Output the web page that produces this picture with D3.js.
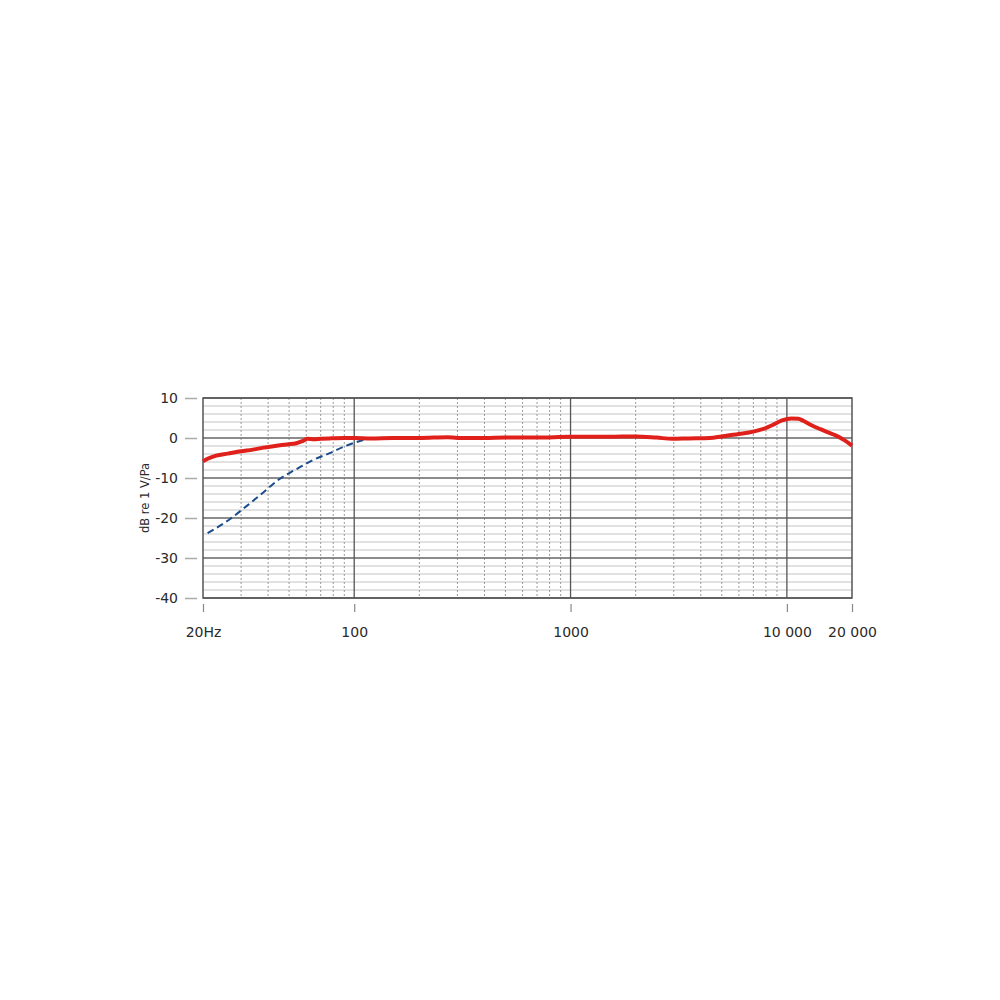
<!DOCTYPE html>
<html>
<head>
<meta charset="utf-8">
<script src="https://cdn.jsdelivr.net/npm/d3@7"></script>
<style>
  body { margin: 0; background: #fff; }
  text { font-family: "DejaVu Sans", Verdana, sans-serif; fill: #2a2a2a; }
</style>
</head>
<body>
<div id="chart"></div>
<script>
// response curve (Hz, dB)
const redFreq = [20, 21, 23, 26, 30, 34, 38, 43, 49, 54, 58, 61, 65, 70, 77, 90, 100, 120, 150, 200, 270, 300, 400, 500, 700, 1000, 1500, 2000, 2500, 2950, 3500, 4400, 5000, 6000, 7000, 7800, 8700, 9500, 10500, 11300, 11900, 13000, 14300, 15500, 16900, 18500, 20000];
const redDb   = [-5.8, -5.2, -4.4, -3.9, -3.3, -2.9, -2.4, -2.0, -1.6, -1.3, -0.7, -0.2, -0.3, -0.2, -0.1, 0, 0, -0.1, 0, 0, 0.2, 0, 0, 0.1, 0.1, 0.3, 0.3, 0.4, 0.1, -0.2, -0.1, 0, 0.4, 1.0, 1.6, 2.3, 3.4, 4.4, 4.9, 4.8, 4.3, 3.2, 2.2, 1.4, 0.6, -0.6, -1.9];

// low cut filter curve
const blueFreq = [21, 26.6, 32, 38, 45, 54, 64.5, 77, 92, 110, 118];
const blueDb   = [-23.8, -20.3, -16.9, -13.6, -10.3, -7.8, -5.5, -3.8, -1.9, -0.5, 0];

const xTickVals = [20, 100, 1000, 10000, 20000];
const xTickText = ['20Hz', '100', '1000', '10 000', '20 000'];
const yTickVals = [10, 0, -10, -20, -30, -40];

const width = 1000, height = 1000;
const pLeft = 203, pRight = 852, pTop = 398, pBottom = 598;

const svg = d3.select('#chart').append('svg')
  .attr('width', width)
  .attr('height', height);

const x = d3.scaleLog().domain([20, 20000]).range([pLeft, pRight]);
const y = d3.scaleLinear().domain([-40, 10]).range([pBottom, pTop]);

// minor grid: every 2 dB
const minorY = d3.range(-40, 11, 2).filter(v => v % 10 !== 0);
svg.append('g').selectAll('line')
  .data(minorY).enter().append('line')
  .attr('x1', pLeft).attr('x2', pRight)
  .attr('y1', d => y(d)).attr('y2', d => y(d))
  .attr('stroke', '#c4c4c4').attr('stroke-width', 1);

// minor vertical grid: 2..9 in each decade
const minorX = [];
[10, 100, 1000, 10000].forEach(dec => {
  for (let k = 2; k <= 9; k++) {
    const f = dec * k;
    if (f > 20 && f < 20000 && xTickVals.indexOf(f) < 0) minorX.push(f);
  }
});
svg.append('g').selectAll('line')
  .data(minorX).enter().append('line')
  .attr('x1', d => x(d)).attr('x2', d => x(d))
  .attr('y1', pTop).attr('y2', pBottom)
  .attr('stroke', '#999').attr('stroke-width', 1)
  .attr('stroke-dasharray', '2,2');

// major grid
svg.append('g').selectAll('line')
  .data(yTickVals).enter().append('line')
  .attr('x1', pLeft).attr('x2', pRight)
  .attr('y1', d => y(d)).attr('y2', d => y(d))
  .attr('stroke', '#666').attr('stroke-width', 1.3);

svg.append('g').selectAll('line')
  .data([100, 1000, 10000]).enter().append('line')
  .attr('x1', d => x(d)).attr('x2', d => x(d))
  .attr('y1', pTop).attr('y2', pBottom)
  .attr('stroke', '#555').attr('stroke-width', 1.3);

// frame
svg.append('rect')
  .attr('x', pLeft).attr('y', pTop)
  .attr('width', pRight - pLeft).attr('height', pBottom - pTop)
  .attr('fill', 'none').attr('stroke', '#555').attr('stroke-width', 1.5);

// y axis ticks + labels
const yAxis = svg.append('g').attr('transform', `translate(${pLeft - 6},0)`)
  .call(d3.axisLeft(y).tickValues(yTickVals).tickFormat(d => String(d)).tickSize(12).tickPadding(7));
yAxis.select('.domain').remove();
yAxis.selectAll('line').attr('stroke', '#aaa').attr('stroke-width', 1.5);
yAxis.selectAll('text').style('font-size', '14px').attr('fill', '#2a2a2a');

// x axis ticks + labels
const xAxis = svg.append('g').attr('transform', `translate(0,${pBottom + 6})`)
  .call(d3.axisBottom(x).tickValues(xTickVals).tickFormat((d, i) => xTickText[i]).tickSize(8).tickPadding(15));
xAxis.select('.domain').remove();
xAxis.selectAll('line').attr('stroke', '#888').attr('stroke-width', 1.2);
xAxis.selectAll('text').style('font-size', '14px').attr('fill', '#2a2a2a');

// y label
svg.append('text')
  .attr('transform', `translate(149,${(pTop + pBottom) / 2}) rotate(-90)`)
  .attr('text-anchor', 'middle')
  .style('font-size', '11.5px')
  .text('dB re 1 V/Pa');

const line = d3.line()
  .x(d => x(d[0]))
  .y(d => y(d[1]))
  .curve(d3.curveMonotoneX);

svg.append('path')
  .datum(blueFreq.map((f, i) => [f, blueDb[i]]))
  .attr('d', line)
  .attr('fill', 'none')
  .attr('stroke', '#1a4c8c')
  .attr('stroke-width', 2)
  .attr('stroke-dasharray', '7,4');

svg.append('path')
  .datum(redFreq.map((f, i) => [f, redDb[i]]))
  .attr('d', line)
  .attr('fill', 'none')
  .attr('stroke', '#e0201b')
  .attr('stroke-width', 4)
  .attr('stroke-linejoin', 'round');
</script>
</body>
</html>
